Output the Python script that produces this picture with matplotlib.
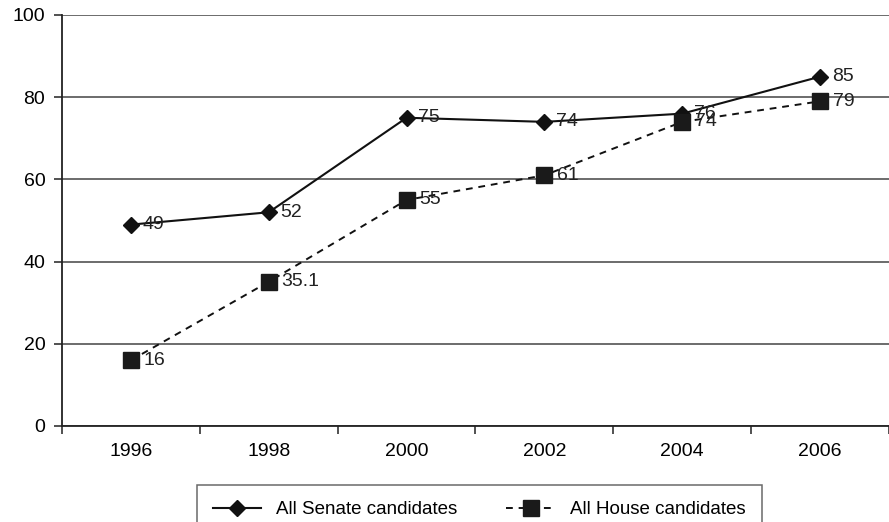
import numpy as np
import matplotlib
matplotlib.use("Agg")
import matplotlib.pyplot as plt

years = ["1996", "1998", "2000", "2002", "2004", "2006"]
senate = [49, 52, 75, 74, 76, 85]
house = [16, 35.1, 55, 61, 74, 79]
senate_labels = ["49", "52", "75", "74", "76", "85"]
house_labels = ["16", "35.1", "55", "61", "74", "79"]

plt.rcParams["font.family"] = ["Liberation Sans", "DejaVu Sans"]

fig = plt.figure(figsize=(8.89, 5.22), dpi=100)
ax = fig.add_axes([62 / 889, 1 - 426 / 522, 1 - 62 / 889, 411 / 522])

x = np.arange(len(years))

# gridlines
ax.set_ylim(0, 100)
ax.set_yticks([0, 20, 40, 60, 80, 100])
ax.yaxis.grid(True, color="#444444", lw=1.1)
ax.set_axisbelow(True)

ax.plot(x, senate, color="#111111", lw=1.5, marker="D", ms=8.5,
        mfc="#111111", mec="#111111", label="All Senate candidates", zorder=3)
ax.plot(x, house, color="#111111", lw=1.4, ls=(0, (3.5, 3)), marker="s", ms=11,
        mfc="#1a1a1a", mec="#1a1a1a", label="All House candidates", zorder=3)

# data labels to the right of each marker
for xi, v, t in zip(x, senate, senate_labels):
    ax.annotate(t, (xi, v), xytext=(8.5, 0), textcoords="offset points",
                va="center", ha="left", fontsize=14, color="#222222", zorder=4)
for xi, v, t in zip(x, house, house_labels):
    ax.annotate(t, (xi, v), xytext=(9, 0), textcoords="offset points",
                va="center", ha="left", fontsize=14, color="#222222", zorder=4)

ax.set_xlim(-0.5, 5.5)
ax.set_xticks(x)
ax.set_xticklabels(years)
ax.set_xticks(np.arange(-0.5, 5.6, 1), minor=True)
ax.tick_params(axis="x", which="major", length=0, pad=12, labelsize=14)
ax.tick_params(axis="x", which="minor", length=6, width=1.1, color="#222222")
ax.tick_params(axis="y", length=6, width=1.1, color="#222222", pad=6, labelsize=14)

for s in ["top", "right"]:
    ax.spines[s].set_visible(False)
ax.spines["left"].set_color("#222222")
ax.spines["bottom"].set_color("#222222")
ax.spines["left"].set_linewidth(1.3)
ax.spines["bottom"].set_linewidth(1.3)

leg = fig.legend(loc="upper center", bbox_to_anchor=(0.539, 1 - 485 / 522), ncol=2,
                 frameon=True, fancybox=False, fontsize=13.5, handlelength=2.6,
                 columnspacing=2.6, borderpad=0.85, borderaxespad=0,
                 edgecolor="#444444")
leg.get_frame().set_linewidth(1.1)

fig.savefig("out.png", dpi=100)
